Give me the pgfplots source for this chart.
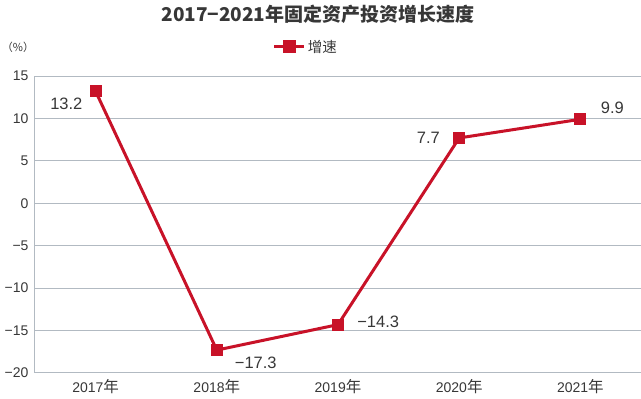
\documentclass[border=0pt]{standalone}
\usepackage{fontspec}
\setmainfont{Liberation Sans}
\newfontfamily\cjk{Noto Sans CJK SC}
\usepackage{pgfplots}
\pgfplotsset{compat=1.18}
\definecolor{lred}{RGB}{200,18,40}
\definecolor{gridc}{RGB}{178,186,194}
\definecolor{txt}{RGB}{55,55,55}
\newcommand{\lblfont}{\fontsize{16.5}{18}\selectfont}
\newcommand{\tickfont}{\fontsize{14}{16}\selectfont}
\newcommand{\nian}{{\cjk\fontsize{15.5}{16}\selectfont 年}}
\tikzset{lbl/.style={font=\lblfont, text=txt}}
\begin{document}
\begin{tikzpicture}
\path[use as bounding box] (0,0) rectangle (641pt,399pt);
\node[font=\fontsize{19}{21}\selectfont\cjk\bfseries, text=txt] at (318pt,385pt) {2017−2021年固定资产投资增长速度};
\node[font=\fontsize{11}{12}\selectfont\cjk, text=txt] at (18pt,352pt) {（\%）};
\begin{axis}[
  at={(35pt,26pt)}, anchor=south west,
  scale only axis, width=606pt, height=297pt,
  xmin=-0.5, xmax=4.5, ymin=-20, ymax=15,
  xtick={0,1,2,3,4},
  xticklabels={2017\nian,2018\nian,2019\nian,2020\nian,2021\nian},
  ytick={-20,-15,-10,-5,0,5,10,15},
  yticklabels={−20,−15,−10,−5,0,5,10,15},
  ymajorgrids, grid style={gridc, line width=1pt},
  axis x line*=bottom, axis y line*=left,
  axis line style={gridc, line width=1pt, -},
  major tick length=0pt,
  tick label style={font=\tickfont, text=txt},
  xticklabel style={yshift=-3pt},
  yticklabel style={xshift=-3pt},
  clip=false,
  legend style={at={(0.447,1.098)}, anchor=center, draw=none, fill=none,
    font=\fontsize{14.5}{16}\selectfont\cjk, text=txt},
  legend image code/.code={
    \draw[lred, line width=3pt] (0pt,0pt) -- (30pt,0pt);
    \fill[lred] (10pt,-5pt) rectangle (20pt,5pt);
  },
]
\addplot[lred, line width=3pt, mark=square*, mark size=5.5pt, mark options={fill=lred, line width=0pt}]
  coordinates {(0,13.2) (1,-17.3) (2,-14.3) (3,7.7) (4,9.9)};
\addlegendentry{增速}
\node[lbl, anchor=east] at (axis cs:-0.08,11.7) {13.2};
\node[lbl, anchor=west] at (axis cs:1.12,-18.8) {−17.3};
\node[lbl, anchor=west] at (axis cs:2.13,-14.0) {−14.3};
\node[lbl, anchor=east] at (axis cs:2.87,7.7) {7.7};
\node[lbl, anchor=west] at (axis cs:4.14,11.2) {9.9};
\end{axis}
\end{tikzpicture}
\end{document}
